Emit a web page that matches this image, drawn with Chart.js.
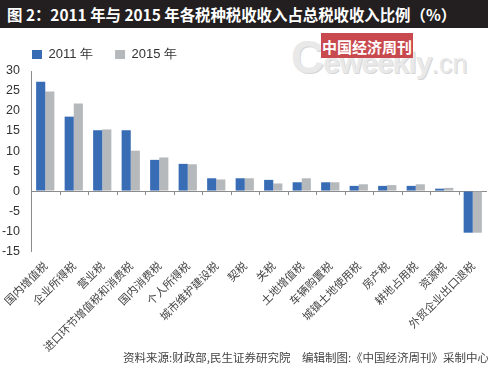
<!DOCTYPE html>
<html>
<head>
<meta charset="utf-8">
<script src="https://cdn.jsdelivr.net/npm/chart.js@4.4.1/dist/chart.umd.min.js"></script>
<style>
  html, body { margin: 0; padding: 0; background: #fff; }
  #wrap { position: relative; width: 488px; height: 366px; overflow: hidden; }
  #chart { position: absolute; left: 0; top: 0; }
  .titlebar {
    position: absolute; left: 0; top: 0; width: 488px; height: 28px;
    background: #231f20; color: #fff; font: bold 15.4px "Noto Sans CJK SC", sans-serif;
    line-height: 28px; padding-left: 7px; box-sizing: border-box; white-space: nowrap;
  }
  .logo {
    position: absolute; left: 321px; top: 33px; width: 92px; height: 25px;
    background: #c94a4e; color: #fff; font: bold 15px "Noto Sans CJK SC", serif;
    line-height: 27px; text-align: center;
  }
  .mark {
    position: absolute; left: 291px; top: 30px; color: #e9e9e9; white-space: nowrap;
    font: bold 30px "Liberation Sans", sans-serif; letter-spacing: -1px;
    text-shadow: 1px 1px 0 #d6d6d6;
  }
  .mark .c { font-size: 46px; }
  .mark .cn { font-weight: normal; font-size: 27px; letter-spacing: 0; }
  .source {
    position: absolute; left: 123px; top: 349px; color: #444;
    font: 11.5px "Noto Sans CJK SC", sans-serif; white-space: nowrap;
  }
</style>
</head>
<body>
<div id="wrap">
  <div class="mark"><span class="c">C</span>eweekly<span class="cn">.cn</span></div>
  <div class="logo">中国经济周刊</div>
  <canvas id="chart" width="488" height="366"></canvas>
  <div class="titlebar">图 2：2011 年与 2015 年各税种税收收入占总税收收入比例（%）</div>
  <div class="source">资料来源:财政部,民生证券研究院　编辑制图:《中国经济周刊》采制中心</div>
</div>
<script>
const categories = [
  "国内增值税", "企业所得税", "营业税", "进口环节增值税和消费税",
  "国内消费税", "个人所得税", "城市维护建设税", "契税", "关税",
  "土地增值税", "车辆购置税", "城镇土地使用税", "房产税", "耕地占用税",
  "资源税", "外贸企业出口退税"
];
const values2011 = [27.3, 18.6, 15.2, 15.2, 7.8, 6.8, 3.2, 3.2, 2.8, 2.2, 2.2, 1.3, 1.3, 1.3, 0.6, -10.4];
const values2015 = [24.9, 21.9, 15.4, 10.1, 8.4, 6.7, 2.9, 3.2, 1.9, 3.2, 2.2, 1.7, 1.5, 1.7, 0.8, -10.4];
const yTicks = [30, 25, 20, 15, 10, 5, 0, -5, -10, -15];

// small tick marks on the zero line between categories
const zeroTicks = {
  id: "zeroTicks",
  afterLayout(chart) {
    // let y labels use the canvas edge (label clip follows scale.left)
    chart.scales.y.left = 0;
  },
  afterDatasetsDraw(chart) {
    const x = chart.scales.x, y = chart.scales.y;
    const ctx = chart.ctx;
    const y0 = y.getPixelForValue(0);
    ctx.save();
    ctx.strokeStyle = "#8c8c8c";
    ctx.lineWidth = 1;
    ctx.beginPath();
    for (let i = 1; i < categories.length; i++) {
      const px = Math.round((x.getPixelForValue(i - 1) + x.getPixelForValue(i)) / 2) + 0.5;
      ctx.moveTo(px, y0);
      ctx.lineTo(px, y0 + 4);
    }
    ctx.stroke();
    ctx.restore();
  }
};

new Chart(document.getElementById("chart").getContext("2d"), {
  type: "bar",
  data: {
    labels: categories,
    datasets: [
      { label: "2011 年", data: values2011, backgroundColor: "#386cb5" },
      { label: "2015 年", data: values2015, backgroundColor: "#b6b9bc" }
    ]
  },
  options: {
    responsive: false,
    animation: false,
    layout: { padding: { top: 26, left: 10, right: 1, bottom: 12 } },
    datasets: { bar: { categoryPercentage: 0.64, barPercentage: 1 } },
    plugins: {
      tooltip: { enabled: false },
      legend: {
        display: true,
        position: "top",
        align: "start",
        labels: {
          boxWidth: 10,
          boxHeight: 9,
          padding: 22,
          color: "#333",
          font: { family: "'Liberation Sans', sans-serif", size: 13 }
        }
      }
    },
    scales: {
      x: {
        grid: { display: false },
        border: { display: false },
        ticks: {
          autoSkip: false,
          maxRotation: 45,
          minRotation: 45,
          padding: 0,
          color: "#444",
          font: { family: "'Noto Sans CJK SC', sans-serif", size: 11 }
        }
      },
      y: {
        min: -15,
        max: 30,
        afterBuildTicks(scale) { scale.ticks = yTicks.map(v => ({ value: v })); },
        afterFit(scale) { scale.width = 21; },
        grid: {
          drawTicks: false,
          color: c => (c.tick && c.tick.value === 0 ? "#8c8c8c" : "rgba(0,0,0,0)")
        },
        border: { display: true, color: "#8c8c8c" },
        ticks: {
          autoSkip: false,
          padding: 11,
          color: "#333",
          font: { family: "'Liberation Sans', sans-serif", size: 12.5 }
        }
      }
    }
  },
  plugins: [zeroTicks]
});
</script>
</body>
</html>
